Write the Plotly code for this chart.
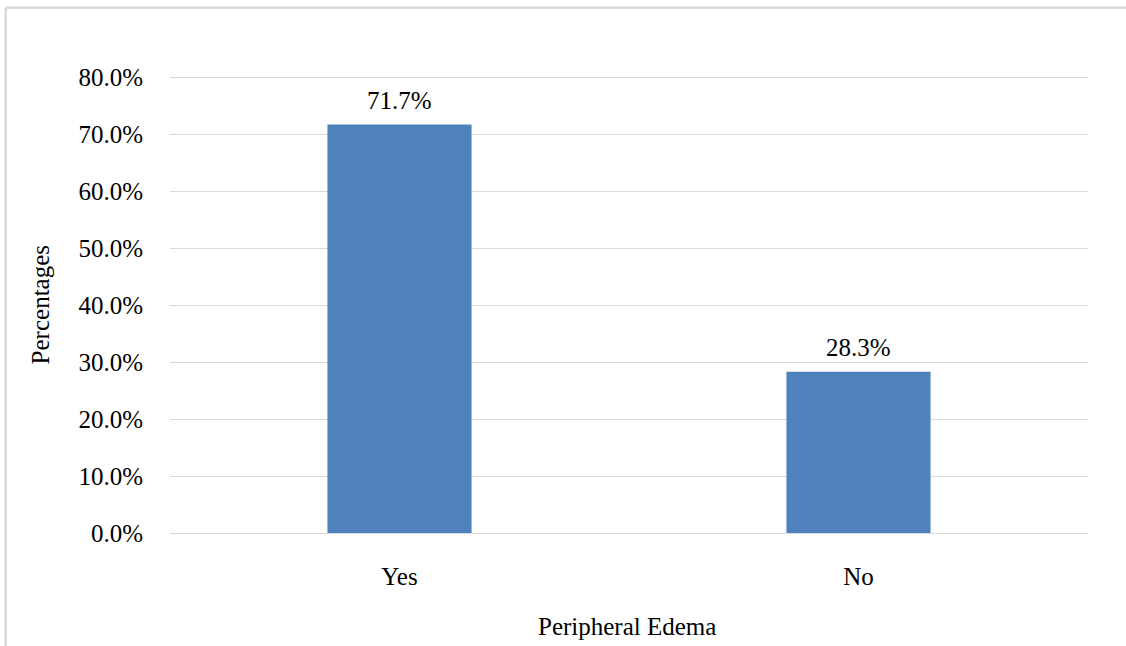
import plotly.graph_objects as go

# Share of patients with peripheral edema
categories = ["Yes", "No"]
percentages = [71.7, 28.3]
y_ticks = [0, 10, 20, 30, 40, 50, 60, 70, 80]
y_tick_labels = [f"{v:.1f}%" for v in y_ticks]

FONT = "Liberation Serif, Times New Roman, serif"
FS = 25
BAR_COLOR = "#4F81BD"
GRID = "#d9d9d9"

fig = go.Figure(
    go.Bar(
        x=categories,
        y=percentages,
        marker=dict(color=BAR_COLOR, line=dict(width=0)),
        width=0.314,
        hoverinfo="skip",
    )
)

# Value labels above each bar
for cat, val in zip(categories, percentages):
    fig.add_annotation(
        x=cat, y=val, text=f"{val:.1f}%", showarrow=False,
        yanchor="bottom", yshift=9,
        font=dict(family=FONT, size=FS, color="#000000"),
    )

# Axis titles
fig.add_annotation(
    xref="paper", yref="paper", x=-0.1416, y=0.497,
    text="Percentages", textangle=-90, showarrow=False,
    xanchor="center", yanchor="middle",
    font=dict(family=FONT, size=FS, color="#000000"),
)
fig.add_annotation(
    xref="paper", yref="paper", x=0.498, y=-0.204,
    text="Peripheral Edema", showarrow=False,
    xanchor="center", yanchor="middle",
    font=dict(family=FONT, size=FS, color="#000000"),
)

# Light frame around the chart (top and left edges)
fig.add_shape(type="line", xref="paper", yref="paper",
              x0=-0.179, x1=1.1, y0=1.147, y1=1.147,
              line=dict(color=GRID, width=2.5))
fig.add_shape(type="line", xref="paper", yref="paper",
              x0=-0.179, x1=-0.179, y0=-0.3, y1=1.147,
              line=dict(color=GRID, width=2.5))

fig.update_layout(
    width=1126, height=646,
    margin=dict(l=170, r=38, t=75, b=113),
    paper_bgcolor="white", plot_bgcolor="white",
    showlegend=False,
    font=dict(family=FONT, size=FS, color="#000000"),
    xaxis=dict(
        showgrid=False, showline=False, ticks="",
        ticklabelstandoff=26,
        tickfont=dict(family=FONT, size=FS),
    ),
    yaxis=dict(
        range=[0, 80.4], tickvals=y_ticks, ticktext=y_tick_labels,
        showgrid=True, gridcolor=GRID, gridwidth=1.3,
        zeroline=True, zerolinecolor=GRID, zerolinewidth=1.3,
        showline=False, ticks="", ticklabelstandoff=26,
        tickfont=dict(family=FONT, size=FS),
    ),
)

fig.write_html("out.html")
